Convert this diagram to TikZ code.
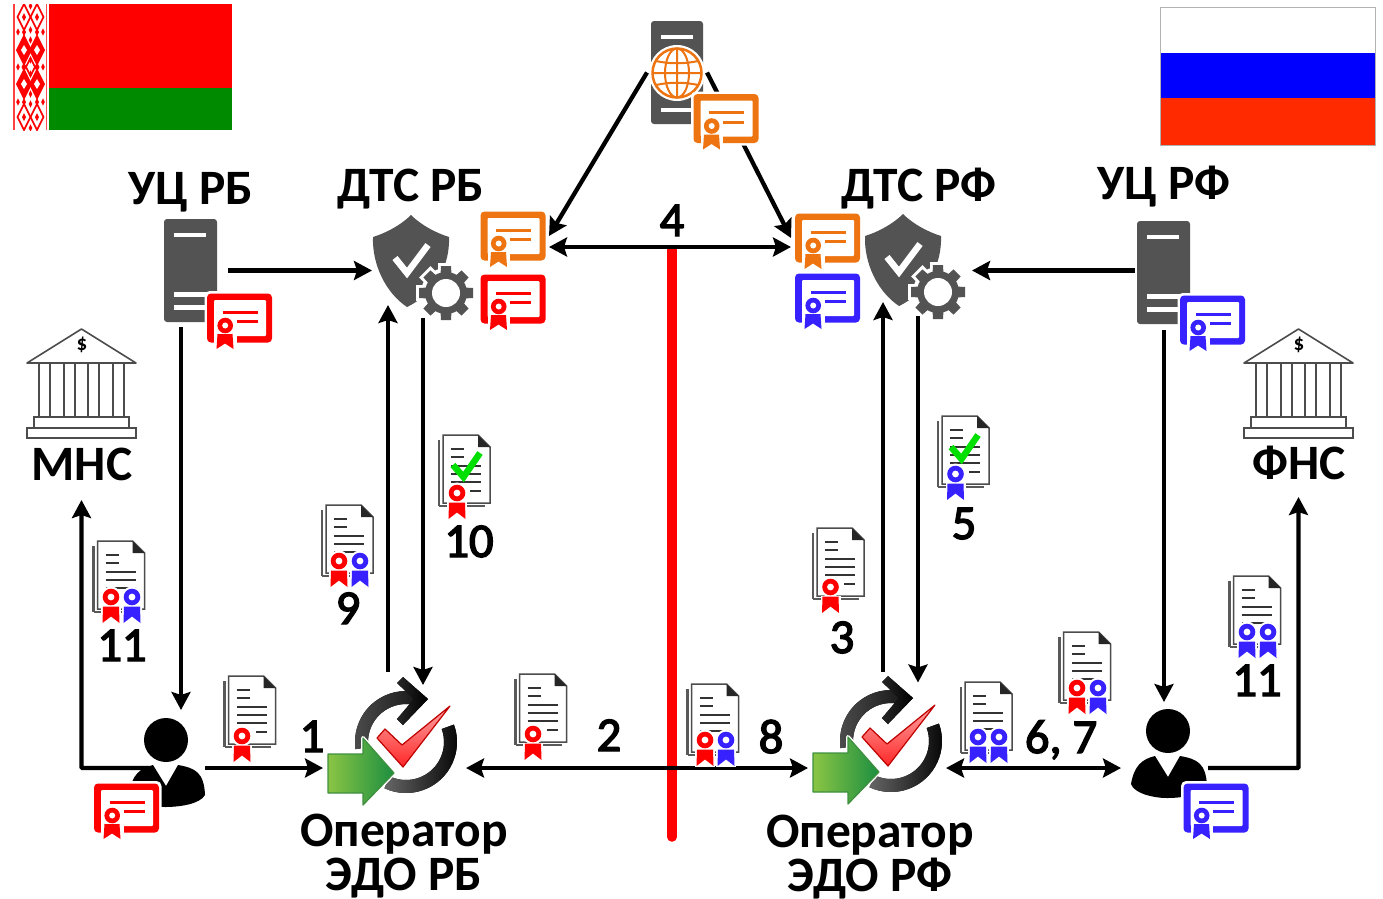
\documentclass[tikz,border=0pt]{standalone}
\usepackage{fontspec}
\setmainfont{Carlito}
\newfontfamily\numfont[FakeBold=3]{Carlito}
\usetikzlibrary{arrows.meta}
\definecolor{cRed}{HTML}{FF0000}
\definecolor{cOrg}{HTML}{ED7411}
\definecolor{cBlu}{HTML}{3722FF}
\definecolor{cGry}{HTML}{535353}
\definecolor{cGrn}{HTML}{008A00}
\definecolor{cChk}{HTML}{00E000}
\definecolor{cRuR}{HTML}{FF2A00}
\definecolor{cArL}{HTML}{8AC544}
\definecolor{cArR}{HTML}{1C8E40}
\definecolor{cArD}{HTML}{3F8F3F}
\tikzset{
  x=1pt,y=-1pt,
  iconbox/.style={inner sep=0pt,outer sep=0pt,draw=none},
  arr/.style={line width=4.3pt,-{Stealth[length=18pt,width=19pt,inset=3pt]}},
  darr/.style={line width=4.3pt,{Stealth[length=18pt,width=19pt,inset=3pt]}-{Stealth[length=18pt,width=19pt,inset=3pt]}},
  lblb/.style={anchor=base,inner sep=0pt,font=\fontsize{49.5}{49.5}\selectfont\bfseries},
  lbl2/.style={anchor=center,inner sep=0pt,align=center,font=\fontsize{49.5}{44}\selectfont\bfseries},
  lbln/.style={anchor=base,inner sep=0pt,font=\fontsize{48.5}{48.5}\selectfont\numfont},
  docline/.style={line width=1.6pt,draw=black!80},
  bankline/.style={line width=1.6pt,draw=black!70,fill=white},
}
% certificate: centre x, y, colour
\newcommand\CertIcon[3]{\begin{scope}[shift={(#1,#2)}]
  \fill[white,rounded corners=5pt] (-35,-27) rectangle (35,27);
  \fill[#3,rounded corners=4pt] (-32.5,-24.5) rectangle (32.5,24.5);
  \fill[white,rounded corners=1pt] (-25.5,-18) rectangle (26.5,18);
  \fill[white] (-25.5,16) rectangle (-3,26);
  \fill[white] (-24,15) -- (-4,15) -- (-4,33) -- (-24,33) -- cycle;
  \draw[#3,line width=3pt] (-17,-6) -- (18,-6) (-3,3.5) -- (18,3.5);
  \fill[white] (-14.3,7.5) circle[radius=9.5];
  \fill[#3] (-22,16) -- (-7,16) -- (-6,31) -- (-14.5,25.5) -- (-23,31) -- cycle;
  \fill[#3] (-14.3,7.5) circle[radius=7.8];
  \fill[white] (-14.3,7.5) circle[radius=3];
\end{scope}}
% sheet of text: left, top
\newcommand\DocIcon[2]{\begin{scope}[shift={(#1,#2)}]
  \draw[line width=2.4pt,black!65] (-4,5) -- (-4,71);
  \draw[line width=2pt,black!65] (-4,71) -- (42,71);
  \fill[white,draw=black!70,line width=1.5pt] (0,0) -- (35,0) -- (47,12) -- (47,68) -- (0,68) -- cycle;
  \fill[black!85] (35,0) -- (47,12) -- (35,12) -- cycle;
  \draw[docline] (8,14) -- (21,14) (8,22) -- (21,22);
  \draw[docline] (8,31) -- (38,31) (8,39) -- (38,39) (8,47) -- (38,47);
  \draw[docline] (27,56) -- (38,56);
\end{scope}}
% seal: centre x, y, colour
\newcommand\SealIcon[3]{\begin{scope}[shift={(#1,#2)}]
  \fill[white] (0,0) circle[radius=10.5];
  \fill[white] (-10,9) rectangle (10,27);
  \fill[#3] (-8,9.5) -- (8,9.5) -- (8.5,26) -- (0,19.5) -- (-8.5,26) -- cycle;
  \fill[#3] (0,0) circle[radius=8.3];
  \fill[white] (0,0) circle[radius=3.4];
\end{scope}}
% green tick
\newcommand\TickIcon[2]{\begin{scope}[shift={(#1,#2)}]
  \draw[cChk,line width=6.5pt] (0,12) -- (10.5,24) -- (27,0);
\end{scope}}
% server: left, top
\newcommand\ServerIcon[2]{\begin{scope}[shift={(#1,#2)}]
  \fill[cGry,rounded corners=3pt] (0,0) -- (53,0) -- (53,103) -- (0,103) -- cycle;
  \fill[white] (10,13.5) rectangle (42,18);
  \fill[white] (10,73) rectangle (53,78);
  \fill[white] (10,86) rectangle (53,91);
\end{scope}}
% gear
\newcommand\GearShape[1]{%
  \foreach \a in {0,45,...,315}{\fill[#1,rotate=\a] (-5,-27) -- (5,-27) -- (6.5,0) -- (-6.5,0) -- cycle;}
  \fill[#1] (0,0) circle[radius=21];
}
% shield with gear: top centre
\newcommand\ShieldIcon[2]{\begin{scope}[shift={(#1,#2)}]
  \fill[cGry] (0,0) .. controls (-10,10) and (-25,18) .. (-38,22) .. controls (-39,50) and (-25,78) .. (-4,92) .. controls (25,78) and (39,50) .. (38,22) .. controls (25,18) and (10,10) .. (0,0) -- cycle;
  \draw[white,line width=6.5pt] (-16,43) -- (-4,58) -- (17,30);
  \begin{scope}[shift={(35,78)}]
    \foreach \a in {0,45,...,315}{\fill[white,rotate=\a] (-8,-30) rectangle (8,0);}
    \fill[white] (0,0) circle[radius=25];
    \GearShape{cGry}
    \fill[white] (0,0) circle[radius=14];
  \end{scope}
\end{scope}}
% person: dx, dy from the RB position
\newcommand\PersonIcon[2]{\begin{scope}[shift={(#1,#2)}]
  \fill[black] (166,740) circle[radius=22];
  \fill[black] (153,765) -- (166,786) -- (178,765) .. controls (195,768) and (204,772) .. (205,795) .. controls (200,804) and (180,807) .. (165,807) .. controls (150,807) and (132,802) .. (129,793) .. controls (132,775) and (140,768) .. (153,765) -- cycle;
\end{scope}}
% bank: dx
\newcommand\BankIcon[1]{\begin{scope}[shift={(#1,0)}]
  \draw[bankline,line join=round] (81.5,329) -- (136,363) -- (27,363) -- cycle;
  \foreach \cx in {39,64,88,113}{\draw[bankline] (\cx,363) rectangle (\cx+11,417);}
  \draw[bankline] (34,417) rectangle (129,428);
  \draw[bankline] (27,428) rectangle (136,438);
\end{scope}}
% operator: dx, dy from the RB position
\newcommand\OperIcon[2]{\begin{scope}[shift={(#1,#2)}]
  \fill[left color=black!70,right color=black!90] ([shift={(406,742)}]172:51) arc[start angle=172,end angle=282,radius=51] -- ([shift={(406,742)}]282:38) arc[start angle=282,end angle=172,radius=38] -- cycle;
  \fill[left color=black!85,right color=black] (403,677) -- (428,699) -- (403,725) -- (397,719) -- (414,699) -- (397,683) -- cycle;
  \fill[left color=black!60,right color=black] ([shift={(406,742)}]-20:51) arc[start angle=-20,end angle=115,radius=51] -- ([shift={(406,742)}]115:38) arc[start angle=115,end angle=-20,radius=38] -- cycle;
  \draw[white,line width=5pt,line join=round] (377,738) -- (385,729) -- (402,745) -- (450,706) -- (403,767) -- cycle;
  \draw[draw=red!75!black,line width=1.2pt,line join=round,top color=red!35!white,bottom color=red!85!white] (377,738) -- (385,729) -- (402,745) -- (450,706) -- (403,767) -- cycle;
  \draw[white,line width=4pt,line join=round] (328,754) -- (363,754) -- (363,738) -- (394,773) -- (363,805) -- (363,793) -- (328,793) -- cycle;
  \draw[draw=cArD,line width=1.2pt,left color=cArL,right color=cArR,line join=round] (328,754) -- (363,754) -- (363,738) -- (394,773) -- (363,805) -- (363,793) -- (328,793) -- cycle;
\end{scope}}
% flag ornament helpers
\newcommand\FlagOutl[3]{\draw[cRed,line width=1.7pt] (#1,#2-#3*2) -- (#1+#3,#2) -- (#1,#2+#3*2) -- (#1-#3,#2) -- cycle;}
\newcommand\FlagFill[3]{\fill[cRed] (#1,#2-#3*2) -- (#1+#3,#2) -- (#1,#2+#3*2) -- (#1-#3,#2) -- cycle;}
\begin{document}
\begin{tikzpicture}
\useasboundingbox (0,0) rectangle (1383,898);
\fill[white] (0,0) rectangle (1383,898);
% ---------- flags
\fill[cRed] (49,4) rectangle (232,88);
\fill[cGrn] (49,88) rectangle (232,130);
\fill[white] (13,4) rectangle (49,130);
\begin{scope}
  \clip (13,4) rectangle (49,130);
  \fill[cRed!75] (13,4) rectangle (15,130);
  \fill[cRed!70] (45.5,4) rectangle (47,130);
  \foreach \cx in {24,37}{
    \FlagOutl{\cx}{17}{6.5}
    \FlagFill{\cx}{17}{2}
    \FlagOutl{\cx}{117}{6.5}
    \FlagFill{\cx}{117}{2}
    \FlagFill{\cx}{50}{8}
    \FlagFill{\cx}{84}{8}
    \FlagFill{\cx}{32}{2}
    \FlagFill{\cx}{102}{2}
    \FlagFill{\cx}{67}{2.5}
  }
  \foreach \yy in {50,84}{
    \fill[white] (24,\yy-5) -- (27,\yy) -- (24,\yy+5) -- (21,\yy) -- cycle;
    \fill[white] (37,\yy-5) -- (40,\yy) -- (37,\yy+5) -- (34,\yy) -- cycle;}
  \FlagOutl{30.5}{67}{4.5}
  \foreach \yy in {6,30,40,60,74,94,104,128}{\FlagFill{30.5}{\yy}{1.8}}
  \foreach \yy in {32,67,102}{\FlagFill{18}{\yy}{1.8}\FlagFill{43}{\yy}{1.8}}
\end{scope}
\fill[white] (1160,7) rectangle (1375,53);
\fill[blue] (1160,53) rectangle (1375,98);
\fill[cRuR] (1160,98) rectangle (1375,145);
\draw[black!30,line width=1pt] (1160,7) rectangle (1375,145);
% ---------- named places (icons are drawn over them below)
\node[iconbox,minimum width=52pt,minimum height=103pt] (srvTop) at (677,72.5) {};
\node[iconbox,minimum width=53pt,minimum height=103pt] (srvRB) at (190.5,270.5) {};
\node[iconbox,minimum width=53pt,minimum height=102pt] (srvRF) at (1163.5,272) {};
\node[iconbox,minimum width=66pt,minimum height=50pt] (certOB) at (513,236) {};
\node[iconbox,minimum width=65pt,minimum height=50pt] (certOF) at (827.5,238) {};
\node[iconbox,minimum width=76pt,minimum height=92pt] (shRB) at (411,261) {};
\node[iconbox,minimum width=76pt,minimum height=92pt] (shRF) at (903,260) {};
\node[iconbox,minimum width=102pt,minimum height=115pt] (opRB) at (406,735.5) {};
\node[iconbox,minimum width=102pt,minimum height=115pt] (opRF) at (891,734.5) {};
\node[iconbox,minimum width=76pt,minimum height=89pt] (userRB) at (167,762.5) {};
\node[iconbox,minimum width=76pt,minimum height=89pt] (userRF) at (1169,753.5) {};
\node[iconbox,minimum width=109pt,minimum height=161pt] (bankL) at (81.5,409.5) {};
\node[iconbox,minimum width=109pt,minimum height=158pt] (bankR) at (1298.5,408) {};
\coordinate (borderTop) at (672,250);
\coordinate (borderBot) at (672,837);
% ---------- connectors
\draw[cRed,line width=9.5pt,line cap=round] (borderTop) -- (borderBot);
\draw[arr] ([xshift=-4pt]srvTop.west) -- ([xshift=3pt]certOB.east);
\draw[arr] ([xshift=4pt]srvTop.east) -- ([xshift=-4pt]certOF.west);
\draw[darr] ([shift={(3pt,-11pt)}]certOB.east) -- ([shift={(-4pt,-9pt)}]certOF.west);
\draw[arr] ([xshift=11pt]srvRB.east) -- ([shift={(-1pt,-9.5pt)}]shRB.west);
\draw[arr] ([shift={(-2pt,1.5pt)}]srvRF.west) -- ([shift={(31pt,-10.5pt)}]shRF.east);
\draw[arr] ([shift={(-9.5pt,-5pt)}]srvRB.south) -- ([shift={(14pt,8pt)}]userRB.north);
\draw[arr] ([shift={(0.5pt,-7pt)}]srvRF.south) -- ([shift={(-5pt,7pt)}]userRF.north);
\draw[arr,rounded corners=1pt] ([shift={(20pt,-5.5pt)}]userRB.west) -| ([yshift=-10pt]bankL.south);
\draw[arr] ([yshift=-5.5pt]userRB.east) -- ([shift={(-32pt,-32.5pt)}]opRB.west);
\draw[darr] ([shift={(9pt,-32.5pt)}]opRB.east) -- ([shift={(-32pt,-33.5pt)}]opRF.west);
\draw[darr] ([shift={(4pt,-33.5pt)}]opRF.east) -- ([shift={(-10pt,-14.5pt)}]userRF.west);
\draw[arr,rounded corners=1pt] ([shift={(1pt,-14.5pt)}]userRF.east) -| ([yshift=-10pt]bankR.south);
\draw[arr] ([shift={(-18pt,6pt)}]opRB.north) -- ([shift={(-23pt,2pt)}]shRB.south);
\draw[arr] ([shift={(12pt,-11pt)}]shRB.south) -- ([shift={(17pt,-7pt)}]opRB.north);
\draw[arr] ([shift={(-8pt,5.5pt)}]opRF.north) -- ([shift={(-20pt,4pt)}]shRF.south);
\draw[arr] ([shift={(15pt,-10pt)}]shRF.south) -- ([shift={(27pt,-5.5pt)}]opRF.north);
% ---------- icons
\begin{scope}[shift={(651,21)}]
  \fill[cGry,rounded corners=3pt] (0,0) -- (52,0) -- (52,103) -- (0,103) -- cycle;
  \fill[white] (10,13.5) rectangle (42,17.5);
  \fill[white] (10,87) rectangle (42,91);
  \fill[white] (26,52) circle[radius=28];
  \draw[cOrg,line width=2.5pt] (26,52) circle[radius=24.5];
  \draw[cOrg,line width=2pt] (26,52) ellipse[x radius=12,y radius=24.5];
  \draw[cOrg,line width=2pt] (26,27.5) -- (26,76.5) (1.5,52) -- (50.5,52) (5,40) .. controls (18,43) and (34,43) .. (47,40) (5,64) .. controls (18,61) and (34,61) .. (47,64);
\end{scope}
\ServerIcon{164}{219}
\ServerIcon{1137}{221}
\CertIcon{726}{118.5}{cOrg}
\CertIcon{239.5}{318}{cRed}
\CertIcon{513}{236}{cOrg}
\CertIcon{513}{299}{cRed}
\CertIcon{827.5}{238}{cOrg}
\CertIcon{827.5}{298}{cBlu}
\CertIcon{1212.5}{320}{cBlu}
\ShieldIcon{411}{215}
\ShieldIcon{903}{214}
\BankIcon{0}
\BankIcon{1217}
\node[iconbox,font=\fontsize{21}{21}\selectfont\bfseries] (usdL) at (82,345) {\$};
\node[iconbox,font=\fontsize{21}{21}\selectfont\bfseries] (usdR) at (1299,345) {\$};
\PersonIcon{0}{0}
\PersonIcon{1002}{-9}
\CertIcon{126.5}{808}{cRed}
\CertIcon{1216}{808}{cBlu}
\OperIcon{0}{0}
\OperIcon{485}{-1}
% ---------- documents
\DocIcon{228.5}{676}  \SealIcon{242}{736}{cRed}
\DocIcon{326}{505}    \SealIcon{339}{561}{cRed} \SealIcon{360}{561}{cBlu}
\DocIcon{443}{435}    \TickIcon{453}{453} \SealIcon{457}{493}{cRed}
\DocIcon{97.5}{541}   \SealIcon{111}{597}{cRed} \SealIcon{132}{597}{cBlu}
\DocIcon{817}{528}    \SealIcon{830.5}{587}{cRed}
\DocIcon{942}{416}    \TickIcon{951}{435} \SealIcon{955.5}{474}{cBlu}
\DocIcon{519.5}{674}  \SealIcon{533}{734}{cRed}
\DocIcon{691.5}{684}  \SealIcon{705}{740}{cRed} \SealIcon{726}{740}{cBlu}
\DocIcon{965}{682}    \SealIcon{978}{737}{cBlu} \SealIcon{999}{737}{cBlu}
\DocIcon{1063.5}{632} \SealIcon{1077}{688}{cRed} \SealIcon{1098}{688}{cBlu}
\DocIcon{1233.5}{576} \SealIcon{1247}{632}{cBlu} \SealIcon{1268}{632}{cBlu}
% ---------- labels
\node[lblb] (tUCB) at (191,204) {УЦ РБ};
\node[lblb] (tDTB) at (411,201) {ДТС РБ};
\node[lblb] (tDTF) at (919,201) {ДТС РФ};
\node[lblb] (tUCF) at (1164,199) {УЦ РФ};
\node[lblb] (tMNS) at (82,480) {МНС};
\node[lblb] (tFNS) at (1299,479) {ФНС};
\node[lbl2] (tOpB) at (404,856) {Оператор\\ЭДО РБ};
\node[lbl2] (tOpF) at (870,857.5) {Оператор\\ЭДО РФ};
\node[lbln] (n1) at (312,752) {1};
\node[lbln] (n2) at (609,751) {2};
\node[lbln] (n3) at (842,653) {3};
\node[lbln] (n4) at (672,236) {4};
\node[lbln] (n5) at (964,539) {5};
\node[lbln] (n67) at (1061,753) {6, 7};
\node[lbln] (n8) at (771,753) {8};
\node[lbln] (n9) at (348,624) {9};
\node[lbln] (n10) at (469,557) {10};
\node[lbln] (n11a) at (122,661) {11};
\node[lbln] (n11b) at (1257,696) {11};
\end{tikzpicture}
\end{document}
